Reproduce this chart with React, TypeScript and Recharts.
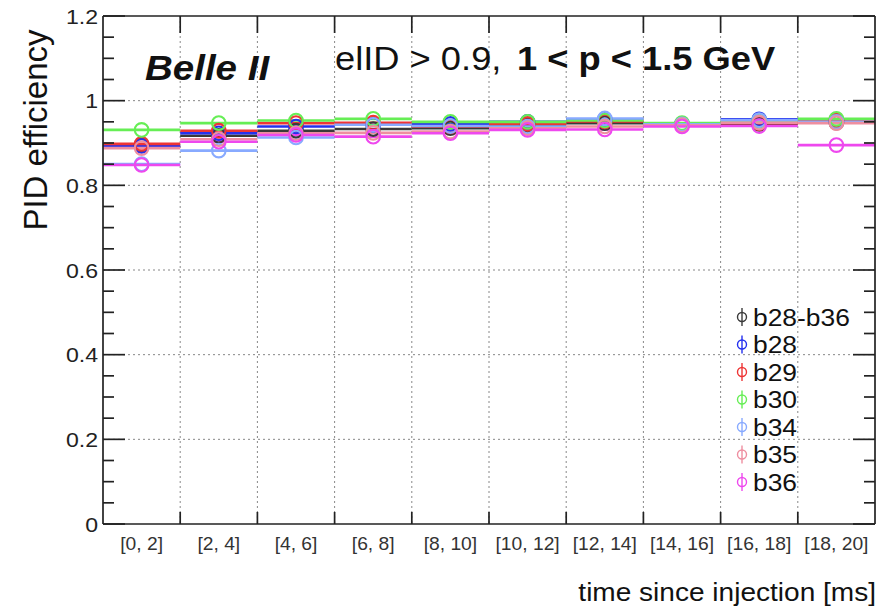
import {
  CartesianGrid,
  ComposedChart,
  ErrorBar,
  Legend,
  Scatter,
  XAxis,
  YAxis,
} from 'recharts'

const BINS = ['[0, 2]', '[2, 4]', '[4, 6]', '[6, 8]', '[8, 10]', '[10, 12]', '[12, 14]', '[14, 16]', '[16, 18]', '[18, 20]']
const BIN_CENTERS = [1, 3, 5, 7, 9, 11, 13, 15, 17, 19]
const BIN_EDGES = [2, 4, 6, 8, 10, 12, 14, 16, 18]
const BIN_HALF = 1

const Y_MAJOR = [0.2, 0.4, 0.6, 0.8, 1.0]
const Y_TICKS = [
  0, 0.05, 0.1, 0.15, 0.2, 0.25, 0.3, 0.35, 0.4, 0.45, 0.5, 0.55, 0.6,
  0.65, 0.7, 0.75, 0.8, 0.85, 0.9, 0.95, 1.0, 1.05, 1.1, 1.15, 1.2,
]

// efficiency per time bin
const ALL = [0.895, 0.917, 0.929, 0.933, 0.935, 0.943, 0.947, 0.943, 0.945, 0.948]
const B28 = [0.893, 0.923, 0.939, 0.943, 0.945, 0.950, 0.956, 0.945, 0.956, 0.952]
const B29 = [0.898, 0.929, 0.947, 0.948, 0.939, 0.945, 0.951, 0.943, 0.947, 0.953]
const B30 = [0.931, 0.947, 0.953, 0.957, 0.950, 0.950, 0.953, 0.947, 0.953, 0.957]
const B34 = [0.850, 0.882, 0.913, 0.943, 0.940, 0.939, 0.958, 0.944, 0.954, 0.950]
const B35 = [0.888, 0.909, 0.923, 0.924, 0.927, 0.935, 0.939, 0.942, 0.948, 0.947]
const B36 = [0.848, 0.903, 0.919, 0.915, 0.923, 0.931, 0.932, 0.939, 0.940, 0.895]

const SERIES = [
  { name: 'b28-b36', color: '#3a3a3a', values: ALL },
  { name: 'b28', color: '#2430ee', values: B28 },
  { name: 'b29', color: '#ee3535', values: B29 },
  { name: 'b30', color: '#66ee55', values: B30 },
  { name: 'b34', color: '#88aaff', values: B34 },
  { name: 'b35', color: '#ee8ea0', values: B35 },
  { name: 'b36', color: '#ee48ee', values: B36 },
]

const FONT = '"Liberation Sans", Arial, Helvetica, sans-serif'
const AXIS = '#222'

const isMajor = (v: number) => Math.abs(v * 5 - Math.round(v * 5)) < 1e-6

// ROOT-style text is slightly wider than plain Helvetica
function Txt({ x, y, size, anchor = 'start', weight = 'normal', italic = false, fill = '#111', children }: any) {
  return (
    <text
      transform={`translate(${x},${y}) scale(1.1,1)`}
      fontFamily={FONT}
      fontSize={size}
      fontWeight={weight}
      fontStyle={italic ? 'italic' : 'normal'}
      textAnchor={anchor}
      fill={fill}
    >
      {children}
    </text>
  )
}

function LeftTick({ x, y, payload }: any) {
  const major = isMajor(payload.value)
  return (
    <g>
      <line x1={x} x2={x + (major ? 22 : 11)} y1={y} y2={y} stroke={AXIS} strokeWidth={1.7} />
      {major && (
        <Txt x={x - 5} y={y + 7.5} size={21} anchor="end" fill="#222">
          {String(Math.round(payload.value * 10) / 10)}
        </Txt>
      )}
    </g>
  )
}

function RightTick({ x, y, payload }: any) {
  const major = isMajor(payload.value)
  return <line x1={x} x2={x - (major ? 22 : 11)} y1={y} y2={y} stroke={AXIS} strokeWidth={1.7} />
}

function BottomTick({ x, y, payload }: any) {
  const i = BIN_CENTERS.indexOf(payload.value)
  if (i >= 0) {
    return (
      <Txt x={x} y={y + 26} size={17.5} anchor="middle" fill="#333">
        {BINS[i]}
      </Txt>
    )
  }
  return <line x1={x} x2={x} y1={y} y2={y - 12} stroke={AXIS} strokeWidth={1.7} />
}

function TopTick({ x, y }: any) {
  return <line x1={x} x2={x} y1={y} y2={y + 17} stroke={AXIS} strokeWidth={1.7} />
}

function Marker({ cx, cy, color }: any) {
  return <circle cx={cx} cy={cy} r={6.8} fill="none" stroke={color} strokeWidth={2.1} />
}

function LegendBox() {
  return (
    <svg width={154} height={200}>
      {SERIES.map((s, i) => {
        const cy = 17 + i * 27.5
        return (
          <g key={s.name}>
            <line x1={14} x2={14} y1={cy - 9} y2={cy + 9} stroke={s.color} strokeWidth={1.4} />
            <circle cx={14} cy={cy} r={4.5} fill="none" stroke={s.color} strokeWidth={1.4} />
            <Txt x={25} y={cy + 8.5} size={24} fill="#111">
              {s.name}
            </Txt>
          </g>
        )
      })}
    </svg>
  )
}

export default function App() {
  return (
    <div style={{ position: 'absolute', left: 0, top: 0, width: 882, height: 609, background: '#fff' }}>
      <ComposedChart width={882} height={609} margin={{ top: 15, right: 6, bottom: 84, left: 102 }}>
        <CartesianGrid
          xAxisId="edge"
          yAxisId="left"
          verticalValues={BIN_EDGES}
          horizontalValues={Y_MAJOR}
          stroke="#888"
          strokeDasharray="2 3"
        />
        <XAxis
          xAxisId="bin"
          dataKey="t"
          type="number"
          domain={[0, 20]}
          ticks={[...BIN_CENTERS, ...BIN_EDGES].sort((a, b) => a - b)}
          interval={0}
          height={1}
          tickSize={0}
          tickMargin={0}
          tickLine={false}
          tick={<BottomTick />}
          axisLine={{ stroke: AXIS, strokeWidth: 1.7 }}
        />
        <XAxis
          xAxisId="edge"
          dataKey="t"
          orientation="top"
          type="number"
          domain={[0, 20]}
          ticks={BIN_EDGES}
          interval={0}
          height={1}
          tickSize={0}
          tickMargin={0}
          tickLine={false}
          tick={<TopTick />}
          axisLine={{ stroke: AXIS, strokeWidth: 1.7 }}
        />
        <YAxis
          yAxisId="left"
          dataKey="eff"
          type="number"
          domain={[0, 1.2]}
          ticks={Y_TICKS}
          interval={0}
          width={1}
          tickSize={0}
          tickMargin={0}
          tickLine={false}
          tick={<LeftTick />}
          axisLine={{ stroke: AXIS, strokeWidth: 1.7 }}
        />
        <YAxis
          yAxisId="right"
          dataKey="eff"
          orientation="right"
          type="number"
          domain={[0, 1.2]}
          ticks={Y_TICKS}
          interval={0}
          width={1}
          tickSize={0}
          tickMargin={0}
          tickLine={false}
          tick={<RightTick />}
          axisLine={{ stroke: AXIS, strokeWidth: 1.7 }}
        />
        {SERIES.map((s, k) => (
          <Scatter
            key={s.name}
            name={s.name}
            // the combined series sits on the top/right axes (same ranges) so they get ticks
            xAxisId={k === 0 ? 'edge' : 'bin'}
            yAxisId={k === 0 ? 'right' : 'left'}
            data={BIN_CENTERS.map((t, i) => ({ t, eff: s.values[i], dt: BIN_HALF }))}
            dataKey="eff"
            isAnimationActive={false}
            shape={(p: any) => <Marker cx={p.cx} cy={p.cy} color={s.color} />}
          >
            <ErrorBar
              dataKey="dt"
              direction="x"
              width={0}
              stroke={s.color}
              strokeWidth={2.6}
              isAnimationActive={false}
            />
          </Scatter>
        ))}
        <Legend
          layout="horizontal"
          verticalAlign="middle"
          align="center"
          wrapperStyle={{ left: 728, top: 300, width: 154, height: 200 }}
          content={() => <LegendBox />}
        />
      </ComposedChart>
      <svg
        width={882}
        height={609}
        style={{ position: 'absolute', left: 0, top: 0, pointerEvents: 'none' }}
      >
        <Txt x={145} y={80} size={35} weight="bold" italic>
          Belle II
        </Txt>
        <Txt x={335} y={70} size={33}>
          elID &gt; 0.9,
        </Txt>
        <Txt x={517} y={70} size={33} weight="bold">
          1 &lt; p &lt; 1.5 GeV
        </Txt>
        <text
          transform="translate(47,130) rotate(-90)"
          fontFamily={FONT}
          fontSize={33}
          textAnchor="middle"
          fill="#111"
        >
          PID efficiency
        </text>
        <Txt x={876} y={601} size={25.5} anchor="end">
          time since injection [ms]
        </Txt>
      </svg>
    </div>
  )
}
